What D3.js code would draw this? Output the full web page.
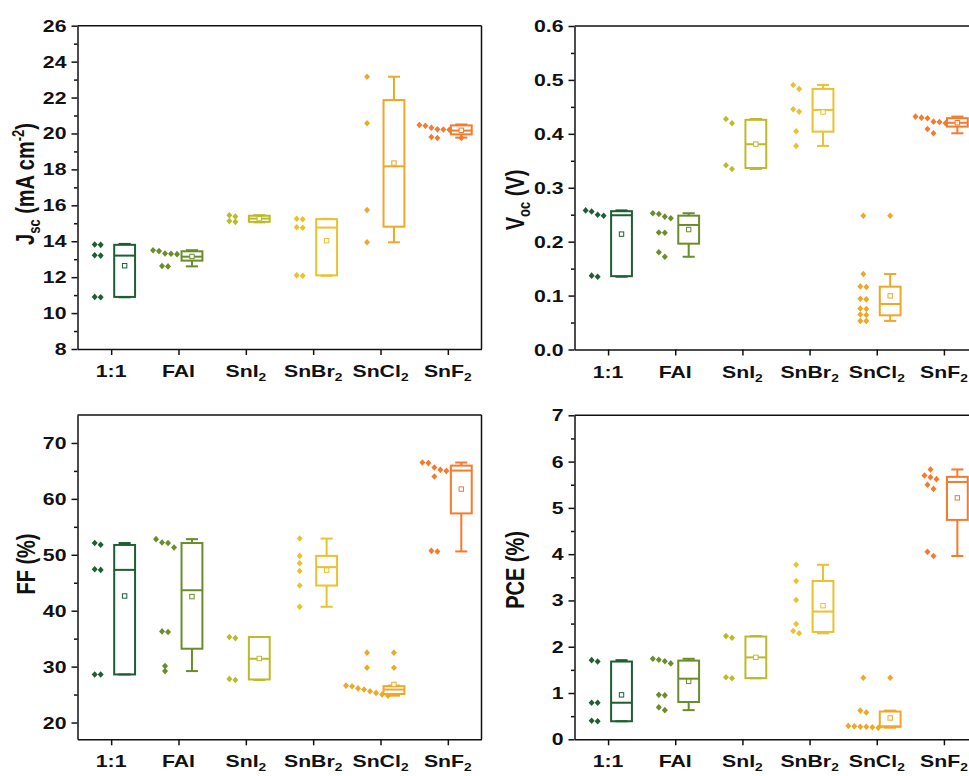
<!DOCTYPE html>
<html>
<head>
<meta charset="utf-8">
<script src="https://cdn.jsdelivr.net/npm/d3@7"></script>
<style>
  body { margin: 0; background: #fff; }
  svg { display: block; font-family: "Liberation Sans", Arial, sans-serif; font-weight: bold; }
</style>
</head>
<body>
<svg id="chart" width="969" height="776"></svg>
<script>
// ---- data ----
const categories = ["1:1", "FAI", "SnI2", "SnBr2", "SnCl2", "SnF2"];
const colors = ["#1d5e33", "#6b8c2b", "#bbbb2a", "#eac12f", "#efa728", "#f57a2c"];

// Jsc (mA cm-2): individual devices, and box rows [low whisker, Q1, median, Q3, high whisker]
const jscPoints = [
  [13.82, 13.8, 13.22, 13.2, 10.9, 10.88],
  [13.5, 13.45, 13.32, 13.3, 13.28, 12.62, 12.6],
  [15.45, 15.38, 15.12, 15.08],
  [15.25, 15.22, 14.78, 14.75, 12.1, 12.08],
  [23.16, 20.57, 15.74, 13.94],
  [20.47, 20.43, 20.32, 20.23, 20.22, 20.2, 19.8, 19.75]
];
const jscBox = [
  [10.88, 10.9, 13.2, 13.8, 13.85],
  [12.6, 12.92, 13.14, 13.44, 13.5],
  [15.05, 15.08, 15.26, 15.42, 15.45],
  [12.08, 12.1, 14.76, 15.23, 15.25],
  [13.94, 14.81, 18.17, 21.86, 23.16],
  [19.77, 19.95, 20.16, 20.45, 20.5]
];
const jscTicks = [8, 10, 12, 14, 16, 18, 20, 22, 24, 26];

// Voc (V)
const vocPoints = [
  [0.258, 0.256, 0.25, 0.248, 0.137, 0.135],
  [0.2527, 0.2514, 0.2464, 0.2434, 0.217, 0.2165, 0.1803, 0.172],
  [0.4276, 0.4197, 0.3417, 0.3349],
  [0.4907, 0.4833, 0.4456, 0.4412, 0.4048, 0.3776],
  [0.248, 0.14, 0.117, 0.116, 0.094, 0.093, 0.076, 0.075, 0.065, 0.064, 0.053, 0.053],
  [0.432, 0.43, 0.429, 0.4226, 0.422, 0.4197, 0.409, 0.401]
];
const vocBox = [
  [0.135, 0.136, 0.249, 0.2565, 0.258],
  [0.172, 0.1963, 0.231, 0.2482, 0.2527],
  [0.3349, 0.3367, 0.3807, 0.426, 0.4276],
  [0.3776, 0.4041, 0.4443, 0.4833, 0.4907],
  [0.053, 0.0634, 0.0844, 0.1165, 0.14],
  [0.401, 0.4134, 0.4205, 0.429, 0.432]
];
const vocTicks = [0, 0.1, 0.2, 0.3, 0.4, 0.5, 0.6];

// FF (%)
const ffPoints = [
  [52.1, 51.8, 47.4, 47.3, 28.6, 28.6],
  [52.8, 52.2, 52.1, 51.3, 36.3, 36.2, 30.1, 29.2],
  [35.3, 35.1, 27.8, 27.6],
  [52.9, 49.8, 48.5, 47.1, 44.5, 40.7],
  [32.5, 29.8, 26.6, 26.5, 26.1, 25.9, 25.6, 25.3, 25.0, 24.8],
  [66.5, 66.4, 65.6, 65.2, 65.0, 64.0, 50.7, 50.6]
];
const ffBox = [
  [28.6, 28.6, 47.3, 51.76, 52.1],
  [29.2, 33.2, 43.66, 52.1, 52.8],
  [27.6, 27.7, 31.4, 35.3, 35.3],
  [40.7, 44.5, 47.8, 49.8, 52.9],
  [24.8, 25.1, 25.9, 26.5, 26.6],
  [50.6, 57.4, 65.06, 65.95, 66.5]
];
const ffTicks = [20, 30, 40, 50, 60, 70];

// PCE (%)
const pcePoints = [
  [1.71, 1.68, 0.79, 0.79, 0.40, 0.39],
  [1.74, 1.72, 1.685, 1.64, 0.96, 0.95, 0.69, 0.63],
  [2.23, 2.195, 1.34, 1.32],
  [3.77, 3.42, 3.01, 2.49, 2.34, 2.29],
  [1.33, 0.62, 0.58, 0.29, 0.28, 0.27, 0.27, 0.26, 0.25],
  [5.83, 5.70, 5.66, 5.62, 5.50, 5.41, 4.05, 3.96]
];
const pceBox = [
  [0.39, 0.39, 0.79, 1.68, 1.71],
  [0.63, 0.806, 1.31, 1.70, 1.74],
  [1.32, 1.32, 1.77, 2.22, 2.23],
  [2.29, 2.32, 2.76, 3.42, 3.77],
  [0.25, 0.27, 0.28, 0.60, 0.62],
  [3.96, 4.74, 5.56, 5.67, 5.83]
];
const pceTicks = [0, 1, 2, 3, 4, 5, 6, 7];

// ---- layout ----
const svg = d3.select("#chart");
const TEXT_SX = 1.25;      // glyphs are drawn slightly wide
const FONT = 17;

const panels = [
  { points: jscPoints, box: jscBox, ticks: jscTicks, domain: [8, 26], fmt: d3.format("d"),
    left: 77.5, top: 25.7, width: 404, bottom: 349, title: "jsc", tx: 26, ty: 184 },
  { points: vocPoints, box: vocBox, ticks: vocTicks, domain: [0, 0.6], fmt: d3.format(".1f"),
    left: 574.5, top: 26, width: 403, bottom: 349.5, title: "voc", tx: 516, ty: 200 },
  { points: ffPoints, box: ffBox, ticks: ffTicks, domain: [17, 75], fmt: d3.format("d"),
    left: 77.5, top: 415, width: 404, bottom: 739.3, title: "ff", tx: 27, ty: 564 },
  { points: pcePoints, box: pceBox, ticks: pceTicks, domain: [0, 7], fmt: d3.format("d"),
    left: 574.5, top: 415.3, width: 403, bottom: 739.3, title: "pce", tx: 516, ty: 570 }
];

function diamond(cx, cy, r) {
  const h = r * 1.1;
  return `M${cx},${cy - h}L${cx + r},${cy}L${cx},${cy + h}L${cx - r},${cy}Z`;
}

// places overlapping points of one column side by side
function spread(ys, gap) {
  const idx = ys.map((v, i) => i).sort((a, b) => ys[a] - ys[b]);
  const off = new Array(ys.length).fill(0);
  let group = [idx[0]];
  const flush = () => {
    const n = group.length;
    group.forEach((k, j) => { off[k] = (j - (n - 1) / 2) * gap; });
  };
  for (let i = 1; i < idx.length; i++) {
    if (ys[idx[i]] - ys[group[group.length - 1]] < 4.5) group.push(idx[i]);
    else { flush(); group = [idx[i]]; }
  }
  flush();
  return off;
}

function stretchedText(g, x, y, anchor) {
  return g.append("text")
    .attr("transform", `translate(${x},${y}) scale(${TEXT_SX},1)`)
    .attr("text-anchor", anchor)
    .attr("font-size", FONT)
    .attr("fill", "#111");
}

function drawPanel(p) {
  const g = svg.append("g");
  const x = d3.scaleLinear().domain([0.5, categories.length + 0.5]).range([p.left, p.left + p.width]);
  const y = d3.scaleLinear().domain(p.domain).range([p.bottom, p.top]);
  const step = x(2) - x(1);
  const boxW = step * 0.31, capW = step * 0.18;

  // frame lines (top and right)
  g.append("line").attr("x1", p.left).attr("x2", p.left + p.width)
    .attr("y1", p.top).attr("y2", p.top).attr("stroke", "#111").attr("stroke-width", 1.5);
  g.append("line").attr("x1", p.left + p.width).attr("x2", p.left + p.width)
    .attr("y1", p.top).attr("y2", p.bottom).attr("stroke", "#111").attr("stroke-width", 1.5);

  // y axis: major and minor ticks
  const major = p.ticks;
  const minor = d3.pairs(major).map(([a, b]) => (a + b) / 2);
  const yAxis = g.append("g").attr("transform", `translate(${p.left},0)`)
    .call(d3.axisLeft(y).tickValues(major).tickSize(6).tickSizeOuter(0).tickFormat(""));
  g.append("g").attr("transform", `translate(${p.left},0)`)
    .call(d3.axisLeft(y).tickValues(minor).tickSize(3.5).tickSizeOuter(0).tickFormat(""))
    .select(".domain").remove();
  g.selectAll(".domain, .tick line").attr("stroke", "#111").attr("stroke-width", 1.5);
  major.forEach(v => {
    stretchedText(g, p.left - 11, y(v) + 6, "end").text(p.fmt(v));
  });

  // x axis
  g.append("g").attr("transform", `translate(0,${p.bottom})`)
    .call(d3.axisBottom(x).tickValues(d3.range(1, categories.length + 1)).tickSize(6).tickSizeOuter(0).tickFormat(""))
    .selectAll(".domain, .tick line").attr("stroke", "#111").attr("stroke-width", 1.5);
  categories.forEach((c, i) => {
    const t = stretchedText(g, x(i + 1), p.bottom + 28, "middle");
    const m = c.match(/^(.*?)(\d)$/);
    if (m && c !== "1:1") {
      t.append("tspan").text(m[1]);
      t.append("tspan").attr("font-size", 11).attr("dy", 4).text(m[2]);
    } else {
      t.text(c);
    }
  });

  // boxes and points
  categories.forEach((c, i) => {
    const col = colors[i];
    const vals = p.points[i];
    const [lo, q1, med, q3, hi] = p.box[i];
    const px = x(i + 1) - step * 0.2;
    const bx = x(i + 1) + step * 0.2;
    const ys = vals.map(v => y(v));
    const offs = spread(ys, 6);

    g.append("g").selectAll("path").data(vals).join("path")
      .attr("d", (v, k) => diamond(px + offs[k], y(v), 3))
      .attr("fill", col);

    const bg = g.append("g").attr("stroke", col).attr("stroke-width", 2).attr("fill", "none");
    bg.append("line").attr("x1", bx).attr("x2", bx).attr("y1", y(q3)).attr("y2", y(hi));
    bg.append("line").attr("x1", bx).attr("x2", bx).attr("y1", y(q1)).attr("y2", y(lo));
    bg.append("line").attr("x1", bx - capW / 2).attr("x2", bx + capW / 2).attr("y1", y(hi)).attr("y2", y(hi));
    bg.append("line").attr("x1", bx - capW / 2).attr("x2", bx + capW / 2).attr("y1", y(lo)).attr("y2", y(lo));
    bg.append("rect").attr("x", bx - boxW / 2).attr("width", boxW)
      .attr("y", y(q3)).attr("height", Math.max(0.5, y(q1) - y(q3)));
    bg.append("line").attr("x1", bx - boxW / 2).attr("x2", bx + boxW / 2).attr("y1", y(med)).attr("y2", y(med));

    // mean
    const mean = d3.mean(vals);
    g.append("rect").attr("x", bx - 2.2).attr("y", y(mean) - 2.2).attr("width", 4.4).attr("height", 4.4)
      .attr("fill", "#fff").attr("stroke", col).attr("stroke-width", 1);

    // values beyond whiskers marked on the box column
    g.append("g").selectAll("path").data(vals.filter(v => v > hi + 1e-9 || v < lo - 1e-9)).join("path")
      .attr("d", v => diamond(bx, y(v), 3)).attr("fill", col);
  });

  // y title
  const t = g.append("text")
    .attr("transform", `translate(${p.tx + 8},${p.ty}) scale(${TEXT_SX},1) rotate(-90)`)
    .attr("text-anchor", "middle").attr("font-size", 20).attr("fill", "#111");
  if (p.title === "jsc") {
    t.append("tspan").text("J");
    t.append("tspan").attr("font-size", 13).attr("dy", 5).text("sc");
    t.append("tspan").attr("dy", -5).text(" (mA cm");
    t.append("tspan").attr("font-size", 13).attr("dy", -8).text("-2");
    t.append("tspan").attr("dy", 8).text(")");
  } else if (p.title === "voc") {
    t.append("tspan").text("V");
    t.append("tspan").attr("font-size", 13).attr("dy", 5).text("oc");
    t.append("tspan").attr("dy", -5).text(" (V)");
  } else if (p.title === "ff") {
    t.text("FF (%)");
  } else {
    t.text("PCE (%)");
  }
}

panels.forEach(drawPanel);
</script>
</body>
</html>
